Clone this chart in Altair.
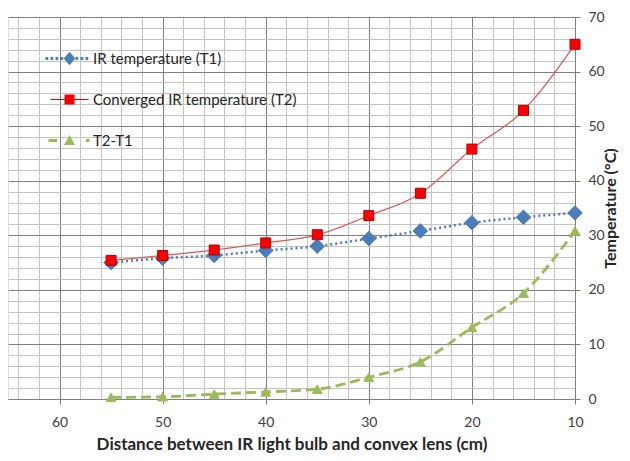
import altair as alt
import pandas as pd

# ---- data ----
distance = [55, 50, 45, 40, 35, 30, 25, 20, 15, 10]
t1 = [25.0, 25.8, 26.3, 27.2, 28.0, 29.4, 30.8, 32.3, 33.3, 34.1]
t2 = [25.4, 26.3, 27.3, 28.6, 30.1, 33.6, 37.7, 45.8, 52.9, 65.0]
diff = [0.3, 0.4, 0.9, 1.3, 1.8, 4.0, 6.8, 13.1, 19.4, 30.8]

series_names = ["IR temperature (T1)", "Converged IR temperature (T2)", "T2-T1"]
line_colors = ["#4A7EBB", "#D9534F", "#9BBB59"]
legend_colors = ["#4A7EBB", "#F00000", "#9BBB59"]
point_fills = ["#4A7EBB", "#FF0000", "#9BBB59"]
point_strokes = ["#4A7EBB", "#B00000", "#9BBB59"]
point_shapes = ["diamond", "square", "triangle-up"]
point_sizes = [210, 100, 95]
dashes = [[2, 3], [1, 0], [10, 5]]
widths = [2.5, 1.2, 2.8]

x_ticks = list(range(10, 66, 2))
y_ticks = list(range(0, 71, 2))

FONT = "Lato"

rows = []
for name, vals in zip(series_names, [t1, t2, diff]):
    for d, v in zip(distance, vals):
        rows.append({"distance": d, "value": v, "series": name})
df = pd.DataFrame(rows)


# legend symbols: line segment + marker drawn as one custom path
def rect(x0, x1, h):
    return f"M{x0},{-h}H{x1}V{h}H{x0}Z"


dots = "".join(rect(round(-4.8 + i * 1.0, 2), round(-4.8 + i * 1.0 + 0.55, 2), 0.28) for i in range(9))
sym_t1 = dots + "M0,-1.35L1.15,0L0,1.35L-1.15,0Z"
sym_t2 = rect(-3.8, 3.8, 0.12) + "M-1,-1H1V1H-1Z"
sym_t3 = rect(-4.2, -2.5, 0.28) + rect(3.3, 4.0, 0.28) + "M-1.1,0.9L0,-1.1L1.1,0.9Z"
legend_symbols = [sym_t1, sym_t2, sym_t3]

grid_cond = {"condition": {"test": "datum.value % 10 === 0", "value": "#808080"}, "value": "#C4C4C4"}
tick_cond = {"condition": {"test": "datum.value % 10 === 0", "value": 1}, "value": 0}
label_expr = "datum.value % 10 === 0 ? datum.label : ''"

x_enc = alt.X(
    "distance:Q",
    scale=alt.Scale(domain=[10, 65], reverse=True, nice=False, zero=False),
    axis=alt.Axis(
        orient="bottom",
        values=x_ticks,
        labelExpr=label_expr,
        gridColor=grid_cond,
        gridWidth=1,
        tickOpacity=tick_cond,
        tickSize=5,
        tickColor="#808080",
        domainColor="#808080",
        labelFlush=False,
        labelOverlap=False,
        labelFont=FONT,
        labelFontSize=14,
        labelColor="#404040",
        labelPadding=11,
        title="Distance between IR light bulb and convex lens (cm)",
        titleFont=FONT,
        titleFontSize=17,
        titleFontWeight="bold",
        titleColor="#262626",
        titlePadding=7,
    ),
)
y_enc = alt.Y(
    "value:Q",
    scale=alt.Scale(domain=[0, 70], nice=False),
    axis=alt.Axis(
        orient="right",
        values=y_ticks,
        labelExpr=label_expr,
        gridColor=grid_cond,
        gridWidth=1,
        tickOpacity=tick_cond,
        tickSize=5,
        tickColor="#808080",
        domainColor="#808080",
        labelFlush=False,
        labelOverlap=False,
        labelFont=FONT,
        labelFontSize=14,
        labelColor="#404040",
        labelPadding=8,
        title="Temperature (°C)",
        titleAngle=270,
        titleFont=FONT,
        titleFontSize=16,
        titleFontWeight="bold",
        titleColor="#262626",
        titlePadding=14,
    ),
)

base = alt.Chart(df).encode(x=x_enc, y=y_enc)

legend_props = dict(
    orient="none",
    legendX=54,
    legendY=34,
    title=None,
    padding=0,
    symbolSize=100,
    symbolStrokeWidth=0,
    labelOffset=16,
    labelLimit=400,
    rowPadding=25,
    labelFont=FONT,
    labelFontSize=15,
    labelColor="#262626",
    direction="vertical",
)

legend_layer = base.transform_filter("false").mark_point(filled=True, opacity=1).encode(
    color=alt.Color("series:N", scale=alt.Scale(domain=series_names, range=legend_colors),
                    legend=alt.Legend(**legend_props)),
    shape=alt.Shape("series:N", scale=alt.Scale(domain=series_names, range=legend_symbols),
                    legend=alt.Legend(**legend_props)),
)

layers = [legend_layer]
for i, name in enumerate(series_names):
    sub = base.transform_filter(alt.datum.series == name)
    layers.append(
        sub.mark_line(
            interpolate="monotone",
            color=line_colors[i],
            strokeDash=dashes[i],
            strokeWidth=widths[i],
        )
    )
for i, name in enumerate(series_names):
    sub = base.transform_filter(alt.datum.series == name)
    layers.append(
        sub.mark_point(
            filled=True,
            opacity=1,
            shape=point_shapes[i],
            size=point_sizes[i],
            fill=point_fills[i],
            stroke=point_strokes[i],
            strokeWidth=1,
        )
    )

chart = (
    alt.layer(*layers)
    .properties(
        width=567,
        height=382,
        autosize=alt.AutoSizeParams(type="none"),
        padding={"left": 0, "top": 9, "right": 47, "bottom": 54},
    )
    .configure_view(stroke=None)
    .configure(font=FONT, background="white")
)

chart.save("out.html", embed_options={"renderer": "svg", "actions": False})
